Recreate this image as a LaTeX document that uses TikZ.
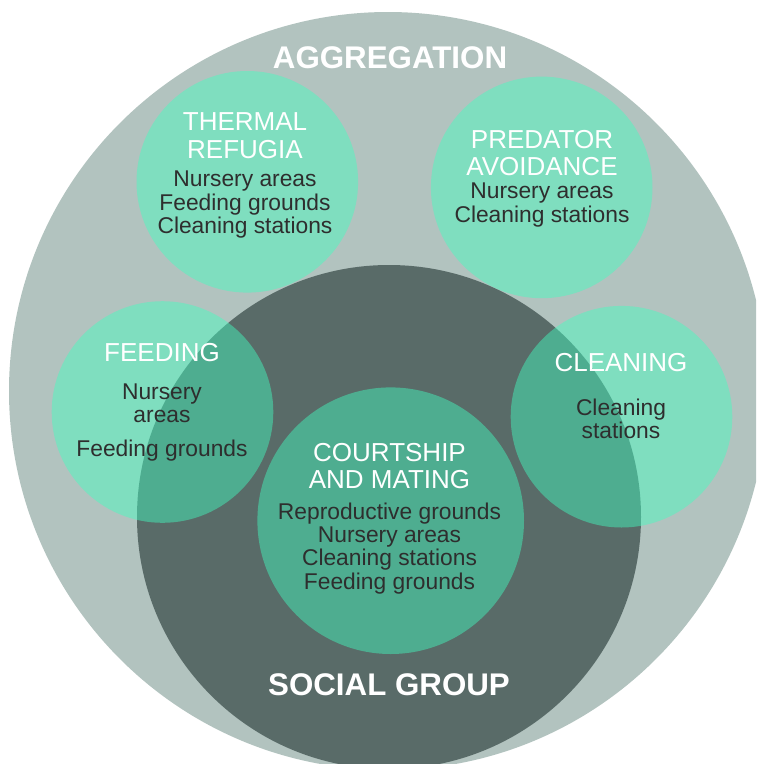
\documentclass[tikz,border=0pt]{standalone}
\usepackage{fontspec}
\setmainfont{Liberation Sans}
\definecolor{aggcol}{HTML}{B2C3BF}
\definecolor{socialcol}{HTML}{596B68}
\definecolor{teal}{RGB}{65,255,193}
\definecolor{bodycol}{HTML}{2E2E2E}
\tikzset{
  bigdisc/.style={circle, inner sep=0pt, draw=none},
  topicdisc/.style={circle, inner sep=0pt, draw=none, fill=teal, fill opacity=0.45, minimum size=221.6pt},
  ttl/.style={anchor=base, inner sep=0pt, text=white, font=\fontsize{26}{27}\selectfont},
  bodytxt/.style={anchor=base, inner sep=0pt, text=bodycol, font=\fontsize{22.8}{23.5}\selectfont},
  bigttl/.style={anchor=base, inner sep=0pt, text=white, font=\fontsize{31.3}{32}\selectfont\bfseries}
}
\begin{document}
\begin{tikzpicture}[x=1pt,y=-1pt]
\useasboundingbox (0,0) rectangle (756,764);
\clip (0,0) rectangle (756,764);
% background circles
\node[bigdisc, fill=aggcol, minimum size=758pt] (agg) at (388,391) {};
\node[bigdisc, fill=socialcol, minimum size=504pt] (social) at (389,517) {};
% topic circles
\node[topicdisc] (thermal) at (247.3,181.8) {};
\node[topicdisc] (predator) at (541.7,187.4) {};
\node[topicdisc] (feeding) at (162.5,412) {};
\node[topicdisc] (cleaning) at (621.5,416.7) {};
\node[topicdisc, minimum size=266.6pt] (courtship) at (390.7,520.7) {};
% big titles
\node[bigttl] (aggtxt) at (390,68.5) {AGGREGATION};
\node[bigttl] (socialtxt) at (389,695) {SOCIAL GROUP};
% thermal refugia
\node[ttl] (th1) at (245,130) {THERMAL};
\node[ttl] (th2) at (245,158.3) {REFUGIA};
\node[bodytxt] (th3) at (245,186.6) {Nursery areas};
\node[bodytxt] (th4) at (245,210) {Feeding grounds};
\node[bodytxt] (th5) at (245,233.6) {Cleaning stations};
% predator avoidance
\node[ttl] (pr1) at (542,148.3) {PREDATOR};
\node[ttl] (pr2) at (542,175) {AVOIDANCE};
\node[bodytxt] (pr3) at (542,198.3) {Nursery areas};
\node[bodytxt] (pr4) at (542,222.7) {Cleaning stations};
% feeding
\node[ttl] (fe1) at (162,361.7) {FEEDING};
\node[bodytxt] (fe2) at (162,399.3) {Nursery};
\node[bodytxt] (fe3) at (162,422.7) {areas};
\node[bodytxt] (fe4) at (162,456) {Feeding grounds};
% cleaning
\node[ttl] (cl1) at (621,371.7) {CLEANING};
\node[bodytxt] (cl2) at (621,415) {Cleaning};
\node[bodytxt] (cl3) at (621,438.3) {stations};
% courtship
\node[ttl] (co1) at (389.5,461) {COURTSHIP};
\node[ttl] (co2) at (389.5,488.3) {AND MATING};
\node[bodytxt] (co3) at (389.5,519.3) {Reproductive grounds};
\node[bodytxt] (co4) at (389.5,542.7) {Nursery areas};
\node[bodytxt] (co5) at (389.5,565.7) {Cleaning stations};
\node[bodytxt] (co6) at (389.5,589) {Feeding grounds};
\end{tikzpicture}
\end{document}
